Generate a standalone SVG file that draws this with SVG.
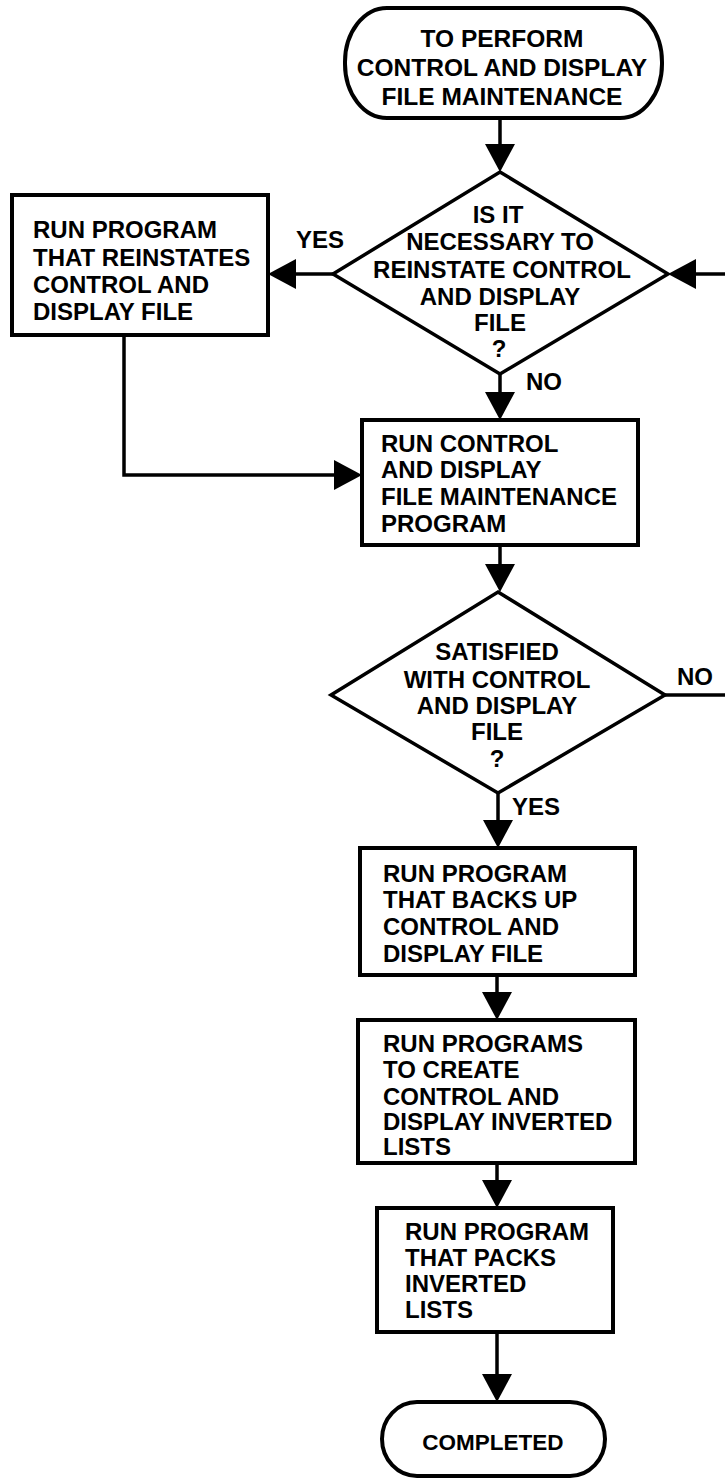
<svg xmlns="http://www.w3.org/2000/svg" width="725" height="1480" viewBox="0 0 725 1480">
<defs>
<marker id="ah" markerUnits="userSpaceOnUse" markerWidth="28" markerHeight="30" refX="0" refY="15" orient="auto" overflow="visible">
<path d="M0,0 L28,15 L0,30 Z" fill="#000"/>
</marker>
</defs>
<style>
.t{font-family:"Liberation Sans",Arial,Helvetica,sans-serif;font-weight:bold;font-size:24px;fill:#000}
.c{text-anchor:middle}
.big{font-size:24.5px}
.sm{font-size:22.5px}
.box{fill:#fff;stroke:#000;stroke-width:4}
.dia{fill:#fff;stroke:#000;stroke-width:3.5}
.ln{fill:none;stroke:#000;stroke-width:3.5}
</style>
<rect width="725" height="1480" fill="#fff"/>
<g id="connectors">
<line class="ln" x1="500" y1="118" x2="500" y2="144" marker-end="url(#ah)"/>
<line class="ln" x1="333" y1="274" x2="296" y2="274" marker-end="url(#ah)"/>
<line class="ln" x1="725" y1="274" x2="696" y2="274" marker-end="url(#ah)"/>
<line class="ln" x1="500" y1="374" x2="500" y2="392" marker-end="url(#ah)"/>
<polyline class="ln" points="124,335 124,475 334,475" marker-end="url(#ah)"/>
<line class="ln" x1="500" y1="545" x2="500" y2="564" marker-end="url(#ah)"/>
<line class="ln" x1="665" y1="695" x2="725" y2="695"/>
<line class="ln" x1="498" y1="793" x2="498" y2="820" marker-end="url(#ah)"/>
<line class="ln" x1="497" y1="975" x2="497" y2="992" marker-end="url(#ah)"/>
<line class="ln" x1="497" y1="1163" x2="497" y2="1180" marker-end="url(#ah)"/>
<line class="ln" x1="497" y1="1332" x2="497" y2="1374" marker-end="url(#ah)"/>
</g>
<g id="start">
<rect class="box" x="345" y="8" width="317" height="110" rx="42" ry="54"/>
<text class="t c big" x="502" y="47">TO PERFORM</text>
<text class="t c big" x="502" y="76">CONTROL AND DISPLAY</text>
<text class="t c big" x="502" y="105">FILE MAINTENANCE</text>
</g>
<g id="decision1">
<polygon class="dia" points="500,172 668,274 500,374 333,274"/>
<text class="t c" x="498" y="223">IS IT</text>
<text class="t c" x="500" y="250">NECESSARY TO</text>
<text class="t c" x="502" y="278">REINSTATE CONTROL</text>
<text class="t c" x="500" y="305">AND DISPLAY</text>
<text class="t c" x="500" y="331">FILE</text>
<text class="t c" x="499" y="357">?</text>
<text class="t" x="296" y="248">YES</text>
<text class="t" x="526" y="390">NO</text>
</g>
<g id="reinstate">
<rect class="box" x="12" y="195" width="256" height="140"/>
<text class="t" x="33" y="238">RUN PROGRAM</text>
<text class="t" x="33" y="266">THAT REINSTATES</text>
<text class="t" x="33" y="293">CONTROL AND</text>
<text class="t" x="33" y="320">DISPLAY FILE</text>
</g>
<g id="maintenance">
<rect class="box" x="362" y="420" width="276" height="125"/>
<text class="t" x="381" y="452">RUN CONTROL</text>
<text class="t" x="381" y="478">AND DISPLAY</text>
<text class="t" x="381" y="505">FILE MAINTENANCE</text>
<text class="t" x="381" y="532">PROGRAM</text>
</g>
<g id="decision2">
<polygon class="dia" points="498,592 665,695 498,793 331,695"/>
<text class="t c" x="497" y="660">SATISFIED</text>
<text class="t c" x="497" y="688">WITH CONTROL</text>
<text class="t c" x="497" y="714">AND DISPLAY</text>
<text class="t c" x="497" y="740">FILE</text>
<text class="t c" x="497" y="767">?</text>
<text class="t" x="677" y="685">NO</text>
<text class="t" x="512" y="815">YES</text>
</g>
<g id="backup">
<rect class="box" x="360" y="848" width="275" height="127"/>
<text class="t" x="383" y="882">RUN PROGRAM</text>
<text class="t" x="383" y="908">THAT BACKS UP</text>
<text class="t" x="383" y="935">CONTROL AND</text>
<text class="t" x="383" y="962">DISPLAY FILE</text>
</g>
<g id="inverted">
<rect class="box" x="358" y="1020" width="277" height="143"/>
<text class="t" x="383" y="1052">RUN PROGRAMS</text>
<text class="t" x="383" y="1078">TO CREATE</text>
<text class="t" x="383" y="1105">CONTROL AND</text>
<text class="t" x="383" y="1130">DISPLAY INVERTED</text>
<text class="t" x="383" y="1155">LISTS</text>
</g>
<g id="pack">
<rect class="box" x="377" y="1208" width="236" height="124"/>
<text class="t" x="405" y="1240">RUN PROGRAM</text>
<text class="t" x="405" y="1266">THAT PACKS</text>
<text class="t" x="405" y="1292">INVERTED</text>
<text class="t" x="405" y="1318">LISTS</text>
</g>
<g id="completed">
<rect class="box" x="382" y="1402" width="223" height="74" rx="35" ry="37"/>
<text class="t c sm" x="493" y="1450">COMPLETED</text>
</g>
</svg>
